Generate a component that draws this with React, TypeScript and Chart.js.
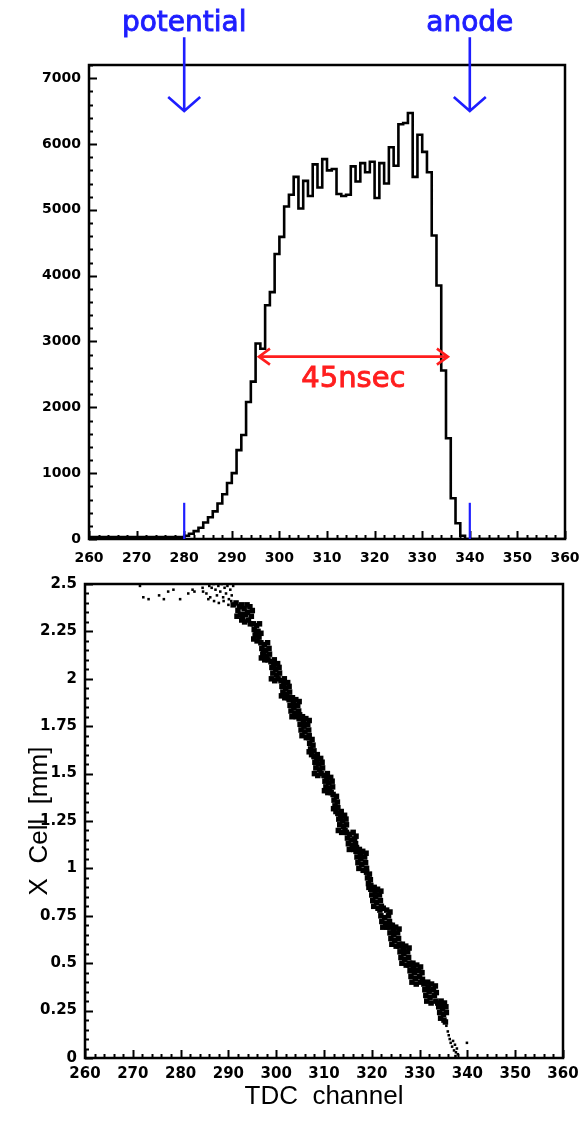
import React, { useEffect, useRef } from "react";
import { Chart, registerables } from "chart.js";

Chart.register(...registerables);

// ---------- data ----------
const channelMin = 260;
const channelMax = 360;
const channelStep = 10;

// TDC histogram: counts per 1-channel bin, starting at histFirstChannel
const histFirstChannel = 280;
const histCounts = [
  30, 50, 80, 120, 170, 250, 330, 420, 540, 680,
  850, 1000, 1350, 1580, 2080, 2390, 2970, 2890, 3550, 3750,
  4330, 4590, 5050, 5230, 5500, 5020, 5440, 5210, 5690, 5340,
  5770, 5600, 5620, 5240, 5210, 5230, 5660, 5430, 5710, 5570,
  5730, 5180, 5710, 5400, 5950, 5670, 6300, 6320, 6470, 5500,
  6140, 5880, 5570, 4610, 3850, 2560, 1530, 620, 240, 50,
];
const histMax = 7200;
const histTickValues = [0, 1000, 2000, 3000, 4000, 5000, 6000, 7000];

// X cell vs TDC channel (dense band)
const cellBand: [number, number][] = [
  [291.0, 2.39], [291.6, 2.40], [292.3, 2.38], [292.0, 2.36], [292.8, 2.39], [293.3, 2.37], [293.9, 2.39], [294.5, 2.38],
  [291.8, 2.33], [292.5, 2.34], [293.0, 2.32], [293.6, 2.34], [294.2, 2.31], [294.8, 2.33], [293.4, 2.30], [294.0, 2.35],
  [292.8, 2.31], [294.6, 2.29], [295.0, 2.36],
  [295.2, 2.29], [295.9, 2.28], [296.5, 2.29], [295.4, 2.26], [296.2, 2.25], [295.6, 2.23], [296.4, 2.22], [295.3, 2.21],
  [296.0, 2.20], [296.8, 2.24], [295.8, 2.245],
  [296.8, 2.19], [297.5, 2.18], [298.2, 2.19], [297.0, 2.16], [297.8, 2.15], [298.5, 2.16], [297.2, 2.13], [298.0, 2.12],
  [298.6, 2.13], [296.9, 2.11], [297.6, 2.10], [298.3, 2.10], [297.4, 2.145],
  [298.9, 2.09], [299.6, 2.10], [300.3, 2.08], [299.1, 2.06], [299.9, 2.05], [300.6, 2.06], [299.3, 2.03], [300.1, 2.02],
  [300.7, 2.03], [299.0, 2.00], [299.7, 1.99], [300.4, 2.00], [299.5, 2.075],
  [301.0, 1.99], [301.7, 2.00], [302.4, 1.98], [301.2, 1.96], [302.0, 1.95], [302.7, 1.96], [301.4, 1.93], [302.2, 1.92],
  [302.8, 1.93], [301.1, 1.91], [301.8, 1.90], [302.5, 1.90], [301.6, 1.975],
  [302.7, 1.89], [303.4, 1.90], [304.1, 1.89], [304.8, 1.88], [302.9, 1.86], [303.7, 1.85], [304.5, 1.86], [303.1, 1.83],
  [303.9, 1.82], [304.7, 1.83], [303.3, 1.80], [304.2, 1.80], [304.9, 1.81], [303.6, 1.875],
  [304.8, 1.79], [305.5, 1.80], [306.2, 1.79], [306.9, 1.78], [305.0, 1.76], [305.8, 1.75], [306.6, 1.76], [305.2, 1.73],
  [306.0, 1.72], [306.8, 1.73], [305.4, 1.70], [306.3, 1.69], [306.9, 1.70], [305.7, 1.775],
  [306.8, 1.69], [307.5, 1.68], [307.0, 1.66], [307.7, 1.65], [307.2, 1.63], [307.9, 1.62], [307.4, 1.60], [306.9, 1.615],
  [307.9, 1.59], [308.6, 1.60], [309.3, 1.58], [308.1, 1.56], [308.9, 1.55], [309.6, 1.56], [308.3, 1.53], [309.1, 1.52],
  [309.7, 1.53], [308.0, 1.50], [308.7, 1.49], [309.4, 1.50], [308.5, 1.575],
  [310.0, 1.49], [310.7, 1.50], [311.4, 1.48], [310.2, 1.46], [311.0, 1.45], [311.7, 1.46], [310.4, 1.43], [311.2, 1.42],
  [311.8, 1.43], [310.1, 1.41], [310.8, 1.40], [311.5, 1.40], [310.6, 1.475],
  [311.9, 1.39], [312.6, 1.38], [312.1, 1.36], [312.8, 1.35], [312.3, 1.33], [312.9, 1.32], [312.5, 1.30], [312.0, 1.315],
  [312.9, 1.29], [313.6, 1.30], [314.3, 1.28], [313.1, 1.26], [313.9, 1.25], [314.6, 1.26], [313.3, 1.23], [314.1, 1.22],
  [314.7, 1.23], [313.0, 1.20], [313.7, 1.19], [314.4, 1.20], [313.5, 1.275],
  [314.7, 1.19], [315.4, 1.18], [316.1, 1.19], [316.7, 1.17], [314.9, 1.16], [315.7, 1.15], [316.4, 1.155], [315.1, 1.13],
  [315.9, 1.12], [316.6, 1.13], [315.3, 1.10], [316.2, 1.10], [316.8, 1.11],
  [316.7, 1.09], [317.4, 1.10], [318.1, 1.09], [318.8, 1.08], [316.9, 1.06], [317.7, 1.05], [318.5, 1.06], [317.1, 1.03],
  [317.9, 1.02], [318.7, 1.03], [317.3, 1.00], [318.2, 0.99], [318.9, 1.00], [317.6, 1.075],
  [318.9, 0.98], [319.5, 0.97], [319.1, 0.95], [319.7, 0.94], [319.3, 0.92], [319.8, 0.91], [319.4, 0.90],
  [319.8, 0.89], [320.5, 0.90], [321.2, 0.89], [321.9, 0.88], [320.0, 0.86], [320.8, 0.85], [321.6, 0.86], [320.2, 0.83],
  [321.0, 0.82], [321.8, 0.83], [320.4, 0.80], [321.3, 0.79], [322.0, 0.80], [320.7, 0.875],
  [321.7, 0.78], [322.4, 0.79], [323.1, 0.78], [323.8, 0.77], [321.9, 0.75], [322.7, 0.74], [323.5, 0.75], [322.1, 0.72],
  [322.9, 0.71], [323.7, 0.72], [322.3, 0.69], [323.2, 0.69], [323.9, 0.70],
  [323.6, 0.69], [324.3, 0.70], [325.0, 0.69], [325.7, 0.68], [323.8, 0.66], [324.6, 0.65], [325.4, 0.66], [324.0, 0.63],
  [324.8, 0.62], [325.6, 0.63], [324.2, 0.60], [325.1, 0.59], [325.8, 0.60], [324.5, 0.675],
  [325.7, 0.59], [326.4, 0.60], [327.1, 0.59], [327.8, 0.58], [325.9, 0.56], [326.7, 0.55], [327.5, 0.56], [326.1, 0.53],
  [326.9, 0.52], [327.7, 0.53], [326.3, 0.50], [327.2, 0.49], [327.9, 0.50], [326.6, 0.575],
  [327.8, 0.49], [328.6, 0.50], [329.4, 0.49], [330.2, 0.48], [328.0, 0.46], [328.9, 0.45], [329.8, 0.46], [330.5, 0.45],
  [328.2, 0.43], [329.1, 0.42], [330.0, 0.43], [328.4, 0.40], [329.3, 0.39], [330.2, 0.40], [328.7, 0.475], [330.6, 0.415],
  [330.9, 0.39], [331.7, 0.40], [332.5, 0.39], [333.3, 0.38], [331.1, 0.36], [332.0, 0.35], [332.9, 0.36], [331.3, 0.33],
  [332.2, 0.32], [333.1, 0.33], [331.5, 0.30], [332.4, 0.29], [333.4, 0.30], [331.8, 0.375], [333.5, 0.345],
  [333.8, 0.29], [334.5, 0.30], [335.2, 0.29], [334.0, 0.27], [334.8, 0.26], [335.5, 0.27], [334.2, 0.24], [335.0, 0.23],
  [335.6, 0.24], [334.4, 0.21], [335.1, 0.20], [335.4, 0.19], [334.7, 0.285],
];

// X cell vs TDC channel (sparse points)
const cellSparse: [number, number][] = [
  [271.5, 2.49], [272.2, 2.43], [273.3, 2.42], [275.5, 2.44], [276.5, 2.42], [277.4, 2.46], [278.5, 2.47], [279.9, 2.42],
  [281.6, 2.45], [282.5, 2.47], [282.9, 2.46], [284.6, 2.48], [284.7, 2.46], [285.4, 2.45], [285.8, 2.42], [286.0, 2.49],
  [286.5, 2.48], [286.9, 2.5], [287.3, 2.47], [287.6, 2.44], [287.9, 2.49], [288.3, 2.46], [288.6, 2.5], [288.9, 2.43],
  [289.2, 2.48], [289.5, 2.45], [289.8, 2.49], [290.1, 2.42], [290.4, 2.47], [290.7, 2.44], [291.0, 2.49], [286.2, 2.43],
  [287.0, 2.41], [288.0, 2.4], [289.0, 2.41], [290.0, 2.39], [290.6, 2.41],
  [335.6, 0.17], [335.9, 0.14], [336.1, 0.12], [336.3, 0.1], [336.5, 0.08], [336.8, 0.06], [337.0, 0.09], [337.2, 0.04],
  [337.4, 0.07], [337.6, 0.03], [337.8, 0.05], [337.5, 0.01], [338.0, 0.02], [339.9, 0.08],
];
const cellMax = 2.5;
const cellTickStep = 0.25;

// annotations
const arrowChannels = [280, 340];
const arrowLabels = ["potential", "anode"];
const arrowTipValue = 6500;
const arrowTailValue = 7620;
const markerValue = 550;
const fwhmEdges = [295.7, 335.4];
const fwhmLevel = 2770;
const fwhmLabel = "45nsec";
const fwhmLabelValue = 2310;

// ---------- styles ----------
const BLUE = "#1e1eff";
const RED = "#ff1e1e";
const TICK_FONT = { family: "'DejaVu Sans', sans-serif", size: 14, weight: "bold" as const };
const TICK_FONT_BOTTOM = { family: "'DejaVu Sans', sans-serif", size: 15, weight: "bold" as const };
const TITLE_FONT = { family: "'Liberation Sans', Arial, sans-serif", size: 26, weight: "normal" as const };
const ANNOT_FONT = "28px 'DejaVu Sans', sans-serif";
const FWHM_FONT = "29px 'DejaVu Sans', sans-serif";

const fmt = (v: any) => String(Math.round(Number(v) * 100) / 100);

function framePlugin(xMinor: number, xMajor: number, yMinor: number, yMajor: number) {
  return {
    id: "frameTicks",
    afterDatasetsDraw(chart: any) {
      const { ctx, chartArea, scales } = chart;
      const { left, right, top, bottom } = chartArea;
      const xs = scales.x;
      const ys = scales.y;
      ctx.save();
      ctx.strokeStyle = "#000";
      ctx.lineWidth = 2;
      const nx = Math.round((xs.max - xs.min) / xMinor);
      const rx = Math.round(xMajor / xMinor);
      ctx.beginPath();
      for (let i = 0; i <= nx; i++) {
        const v = xs.min + i * xMinor;
        const px = Math.round(xs.getPixelForValue(v)) + 0.5;
        const len = i % rx === 0 ? 8 : 4;
        ctx.moveTo(px, bottom);
        ctx.lineTo(px, bottom - len);
      }
      const ny = Math.round((ys.max - ys.min) / yMinor);
      const ry = Math.round(yMajor / yMinor);
      for (let i = 0; i <= ny; i++) {
        const v = ys.min + i * yMinor;
        const py = Math.round(ys.getPixelForValue(v)) + 0.5;
        const len = i % ry === 0 ? 8 : 4;
        ctx.moveTo(left, py);
        ctx.lineTo(left + len, py);
      }
      ctx.stroke();
      ctx.lineWidth = 2.5;
      ctx.strokeRect(left, top, right - left, bottom - top);
      ctx.restore();
    },
  };
}

function heavyText(ctx: CanvasRenderingContext2D, text: string, x: number, y: number) {
  ctx.fillText(text, x, y);
  ctx.lineWidth = 0.9;
  ctx.strokeText(text, x, y);
}

const annotationPlugin = {
  id: "annotations",
  afterDraw(chart: any) {
    const { ctx, scales } = chart;
    const xs = scales.x;
    const ys = scales.y;
    ctx.save();
    ctx.strokeStyle = BLUE;
    ctx.fillStyle = BLUE;
    ctx.lineCap = "butt";
    ctx.font = ANNOT_FONT;
    ctx.textAlign = "center";
    ctx.textBaseline = "alphabetic";
    arrowChannels.forEach((c, i) => {
      const px = xs.getPixelForValue(c);
      const tip = ys.getPixelForValue(arrowTipValue);
      const tail = ys.getPixelForValue(arrowTailValue);
      ctx.lineWidth = 2.6;
      ctx.beginPath();
      ctx.moveTo(px, tail);
      ctx.lineTo(px, tip);
      ctx.moveTo(px - 16, tip - 14);
      ctx.lineTo(px, tip);
      ctx.lineTo(px + 16, tip - 14);
      ctx.stroke();
      heavyText(ctx, arrowLabels[i], px, tail - 6);
      ctx.lineWidth = 2.2;
      ctx.beginPath();
      ctx.moveTo(px, ys.getPixelForValue(0));
      ctx.lineTo(px, ys.getPixelForValue(markerValue));
      ctx.stroke();
    });
    const xl = xs.getPixelForValue(fwhmEdges[0]);
    const xr = xs.getPixelForValue(fwhmEdges[1]);
    const yl = ys.getPixelForValue(fwhmLevel);
    ctx.strokeStyle = RED;
    ctx.fillStyle = RED;
    ctx.lineWidth = 2.6;
    ctx.beginPath();
    ctx.moveTo(xl, yl);
    ctx.lineTo(xr, yl);
    ctx.moveTo(xl + 11, yl - 8);
    ctx.lineTo(xl, yl);
    ctx.lineTo(xl + 11, yl + 8);
    ctx.moveTo(xr - 11, yl - 8);
    ctx.lineTo(xr, yl);
    ctx.lineTo(xr - 11, yl + 8);
    ctx.stroke();
    ctx.font = FWHM_FONT;
    heavyText(ctx, fwhmLabel, (xl + xr) / 2, ys.getPixelForValue(fwhmLabelValue));
    ctx.restore();
  },
};

function xAxis(height: number, withTitle: boolean, labelPad: number, font: any) {
  return {
    type: "linear" as const,
    min: channelMin,
    max: channelMax,
    grid: { display: false, drawTicks: false },
    border: { display: false },
    ticks: {
      stepSize: channelStep,
      padding: labelPad,
      font,
      color: "#000",
      maxRotation: 0,
      autoSkip: false,
      callback: fmt,
    },
    title: {
      display: withTitle,
      text: "TDC  channel",
      font: TITLE_FONT,
      color: "#000",
      padding: { top: 0, bottom: 9 },
    },
    afterFit(s: any) {
      s.height = height;
      s.paddingLeft = 0;
      s.paddingRight = 0;
    },
  };
}

export default function App() {
  const topRef = useRef<HTMLCanvasElement | null>(null);
  const botRef = useRef<HTMLCanvasElement | null>(null);

  useEffect(() => {
    const histPoints: { x: number; y: number }[] = [{ x: channelMin, y: 0 }];
    histCounts.forEach((v, i) => histPoints.push({ x: histFirstChannel + i, y: v }));
    histPoints.push({ x: histFirstChannel + histCounts.length, y: 0 });
    histPoints.push({ x: channelMax, y: 0 });

    const top = new Chart(topRef.current!, {
      type: "line",
      data: {
        datasets: [
          {
            data: histPoints,
            stepped: "after",
            borderColor: "#000",
            borderWidth: 2.6,
            pointRadius: 0,
            fill: false,
          },
        ],
      },
      options: {
        animation: false,
        responsive: false,
        maintainAspectRatio: false,
        layout: { padding: { left: 0, right: 19, top: 65, bottom: 0 } },
        plugins: { legend: { display: false }, tooltip: { enabled: false } },
        scales: {
          x: xAxis(31, false, 11, TICK_FONT) as any,
          y: {
            min: 0,
            max: histMax,
            grid: { display: false, drawTicks: false },
            border: { display: false },
            ticks: {
              padding: 8,
              font: TICK_FONT,
              color: "#000",
              callback: fmt,
            },
            afterBuildTicks(s: any) {
              s.ticks = histTickValues.map((v) => ({ value: v }));
            },
            afterFit(s: any) {
              s.width = 89;
              s.paddingTop = 0;
              s.paddingBottom = 0;
            },
          } as any,
        },
      },
      plugins: [framePlugin(2, 10, 200, 1000), annotationPlugin],
    });

    const bot = new Chart(botRef.current!, {
      type: "scatter",
      data: {
        datasets: [
          {
            data: cellBand.map(([x, y]) => ({ x, y })),
            backgroundColor: "#000",
            borderWidth: 0,
            pointStyle: "rect",
            pointRadius: 3.9,
          },
          {
            data: cellSparse.map(([x, y]) => ({ x, y })),
            backgroundColor: "#000",
            borderWidth: 0,
            pointStyle: "rect",
            pointRadius: 1.8,
          },
        ],
      },
      options: {
        animation: false,
        responsive: false,
        maintainAspectRatio: false,
        layout: { padding: { left: 0, right: 21, top: 14, bottom: 0 } },
        plugins: { legend: { display: false }, tooltip: { enabled: false } },
        scales: {
          x: xAxis(63, true, 7, TICK_FONT_BOTTOM) as any,
          y: {
            min: 0,
            max: cellMax,
            grid: { display: false, drawTicks: false },
            border: { display: false },
            ticks: {
              stepSize: cellTickStep,
              padding: 8,
              font: TICK_FONT_BOTTOM,
              color: "#000",
              callback: fmt,
            },
            title: {
              display: true,
              text: "X  Cell  [mm]",
              font: TITLE_FONT,
              color: "#000",
              padding: { top: 24, bottom: 0 },
            },
            afterFit(s: any) {
              s.width = 85;
              s.paddingTop = 0;
              s.paddingBottom = 0;
            },
          } as any,
        },
      },
      plugins: [framePlugin(2, 10, 0.05, 0.25)],
    });

    return () => {
      top.destroy();
      bot.destroy();
    };
  }, []);

  return (
    <div style={{ position: "absolute", left: 0, top: 0, width: 584, height: 1121, background: "#fff" }}>
      <canvas
        ref={topRef}
        width={584}
        height={570}
        style={{ position: "absolute", left: 0, top: 0, width: 584, height: 570, display: "block" }}
      />
      <canvas
        ref={botRef}
        width={584}
        height={551}
        style={{ position: "absolute", left: 0, top: 570, width: 584, height: 551, display: "block" }}
      />
    </div>
  );
}
